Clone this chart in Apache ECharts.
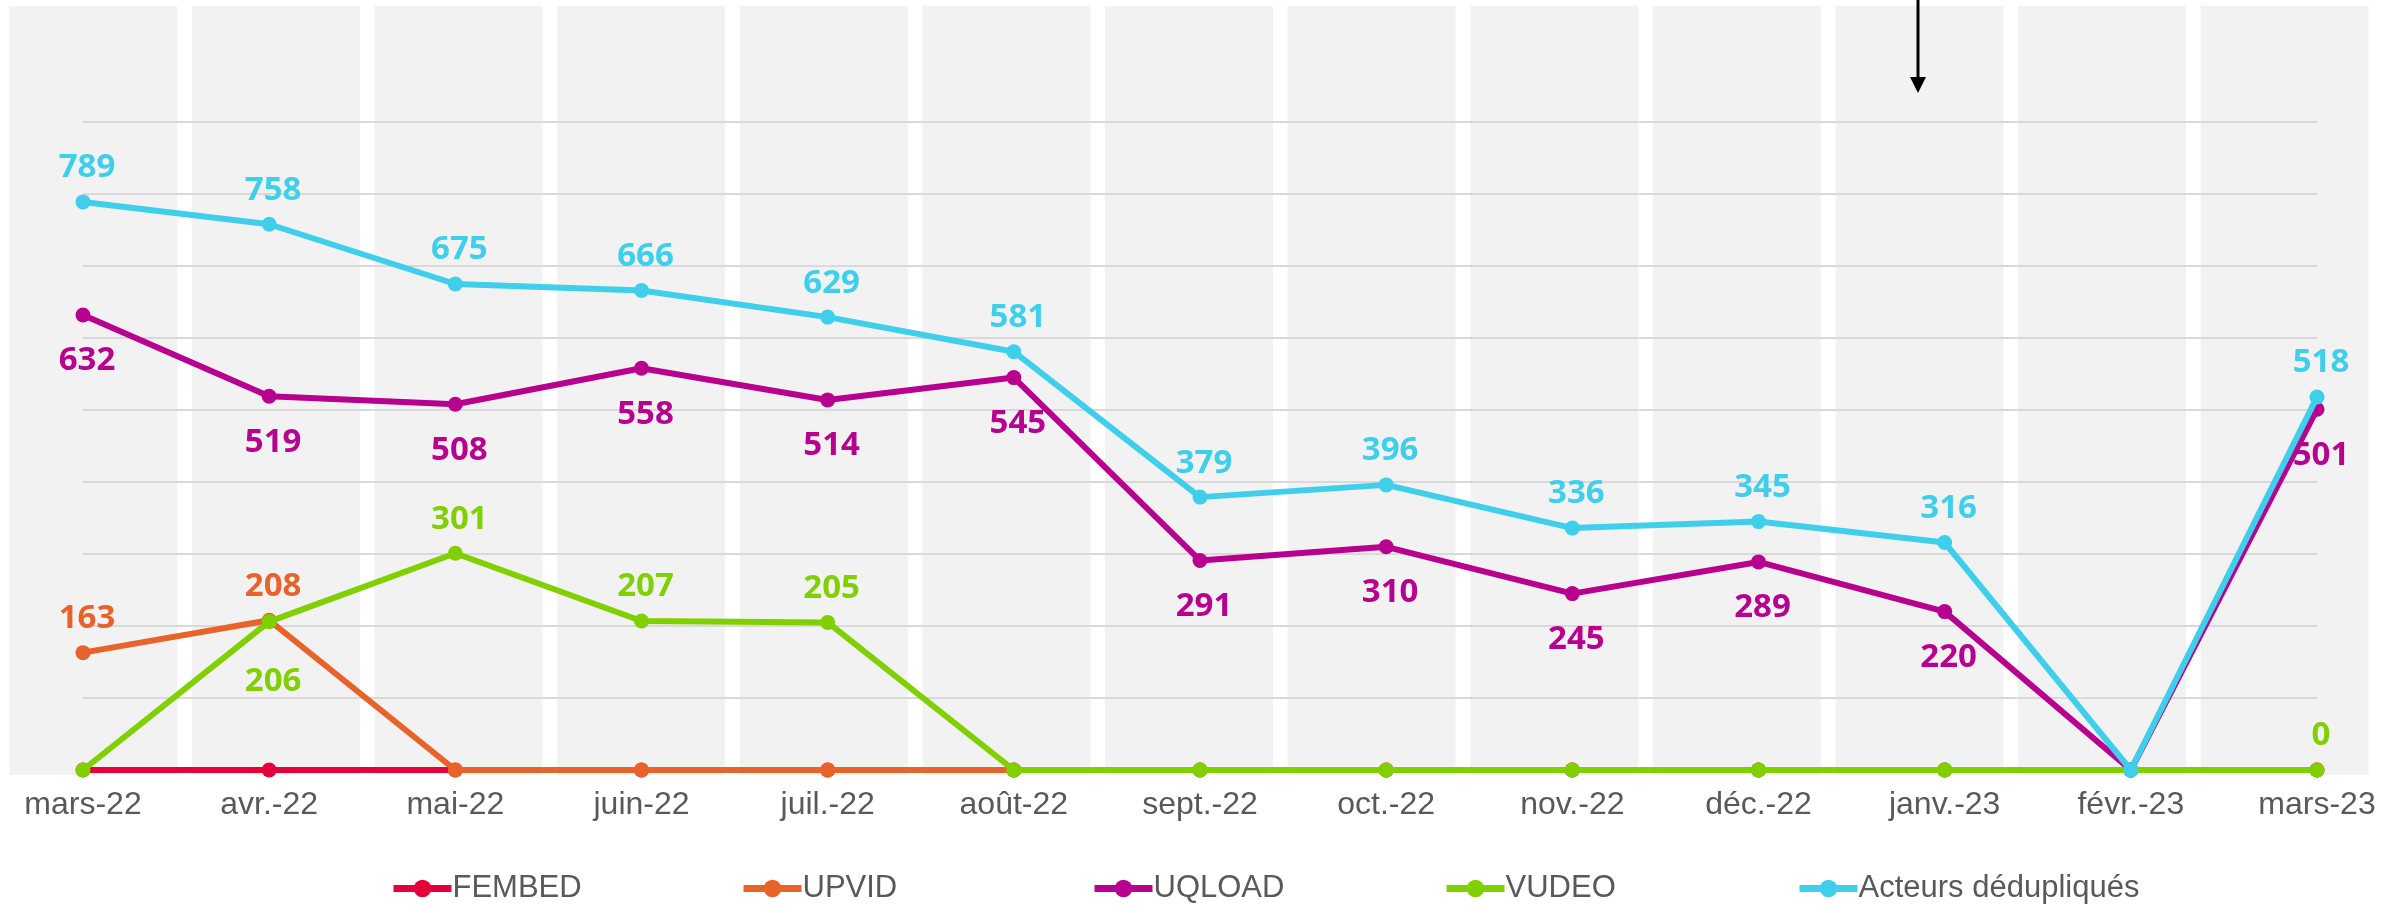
<!DOCTYPE html>
<html>
<head>
<meta charset="utf-8">
<script src="https://cdn.jsdelivr.net/npm/echarts@6/dist/echarts.min.js"></script>
<style>
  html, body { margin: 0; padding: 0; background: #fff; }
  #chart { width: 2397px; height: 913px; }
</style>
</head>
<body>
<div id="chart"></div>
<script>
const months = ["mars-22", "avr.-22", "mai-22", "juin-22", "juil.-22", "août-22", "sept.-22",
  "oct.-22", "nov.-22", "déc.-22", "janv.-23", "févr.-23", "mars-23"];

const fembed = [0, 0, 0, 0, 0, 0, 0, 0, 0, 0, 0, 0, 0];
const upvid = [163, 208, 0, 0, 0, 0, 0, 0, 0, 0, 0, 0, 0];
const uqload = [632, 519, 508, 558, 514, 545, 291, 310, 245, 289, 220, 0, 501];
const vudeo = [0, 206, 301, 207, 205, 0, 0, 0, 0, 0, 0, 0, 0];
const acteurs = [789, 758, 675, 666, 629, 581, 379, 396, 336, 345, 316, 0, 518];

const names = ["FEMBED", "UPVID", "UQLOAD", "VUDEO", "Acteurs dédupliqués"];
const colors = ["#e4003b", "#e8632a", "#b8008e", "#80d000", "#3fcfea"];

const labelFont = {
  fontFamily: "Open Sans",
  fontWeight: "bold",
  fontSize: 33,
  offset: [4, 0]
};

// which points carry a value label, and where
function labelled(values, color, rules) {
  return values.map((v, i) => {
    const r = rules[i];
    if (!r) return { value: v, label: { show: false } };
    return {
      value: v,
      label: Object.assign({ show: true, color: color, position: r.pos,
        distance: r.dist }, labelFont)
    };
  });
}
const above = { pos: "top", dist: 10 };
const below = { pos: "bottom", dist: 22 };

const allBut = (skip, rule) => months.map((m, i) => (i === skip ? null : rule));

const seriesValues = [fembed, upvid, uqload, vudeo, acteurs];
const labelRules = [
  [],
  [above, above],
  allBut(11, below),
  [null, { pos: "bottom", dist: 36 }, above, above, above, null, null, null, null, null, null, null, above],
  allBut(11, above)
];

const lineSeries = seriesValues.map((vals, k) => ({
  name: names[k],
  type: "line",
  xAxisIndex: 0,
  yAxisIndex: 0,
  symbol: "circle",
  symbolSize: 15,
  showAllSymbol: true,
  lineStyle: { color: colors[k], width: 6 },
  itemStyle: { color: colors[k] },
  data: labelled(vals, colors[k], labelRules[k]),
  z: 3 + k
}));

const legendX = [390, 740, 1091, 1443, 1796];
const legends = names.map((n, k) => ({
  data: [n],
  left: legendX[k],
  top: 873,
  padding: 0,
  itemWidth: 58,
  itemHeight: 22,
  itemGap: 0,
  selectedMode: false,
  lineStyle: { width: 7 },
  textStyle: { fontFamily: "Liberation Sans", fontSize: 31, color: "#595959", padding: [0, 0, 0, -4] }
}));

const myChart = echarts.init(document.getElementById("chart"));
const option = {
  backgroundColor: "#ffffff",
  animation: false,
  legend: legends,
  grid: [
    { left: 83, right: 80, top: 122, bottom: 143 },
    { left: 2, right: 21, top: 6, bottom: 138 }
  ],
  xAxis: [
    {
      type: "category",
      gridIndex: 0,
      boundaryGap: false,
      data: months,
      axisLine: { show: false },
      axisTick: { show: false },
      axisLabel: {
        fontFamily: "Liberation Sans",
        fontSize: 32,
        color: "#595959",
        margin: 19
      }
    },
    {
      type: "category",
      gridIndex: 1,
      data: months,
      show: false
    }
  ],
  yAxis: [
    {
      type: "value",
      gridIndex: 0,
      min: 0,
      max: 900,
      interval: 100,
      axisLine: { show: false },
      axisTick: { show: false },
      axisLabel: { show: false },
      splitLine: { show: true, lineStyle: { color: "#d9d9d9", width: 2 } }
    },
    { type: "value", gridIndex: 1, min: 0, max: 1, show: false }
  ],
  graphic: [
    {
      type: "group",
      z: 100,
      children: [
        { type: "line", shape: { x1: 1918, y1: 0, x2: 1918, y2: 80 },
          style: { stroke: "#000", lineWidth: 3 } },
        { type: "polygon", shape: { points: [[1910, 77], [1926, 77], [1918, 93]] },
          style: { fill: "#000" } }
      ]
    }
  ],
  series: [
    {
      // grey background columns
      type: "bar",
      xAxisIndex: 1,
      yAxisIndex: 1,
      silent: true,
      barWidth: 168,
      itemStyle: { color: "#f2f2f2" },
      data: months.map(() => 1),
      z: -1
    }
  ].concat(lineSeries)
};
myChart.setOption(option);
</script>
</body>
</html>
